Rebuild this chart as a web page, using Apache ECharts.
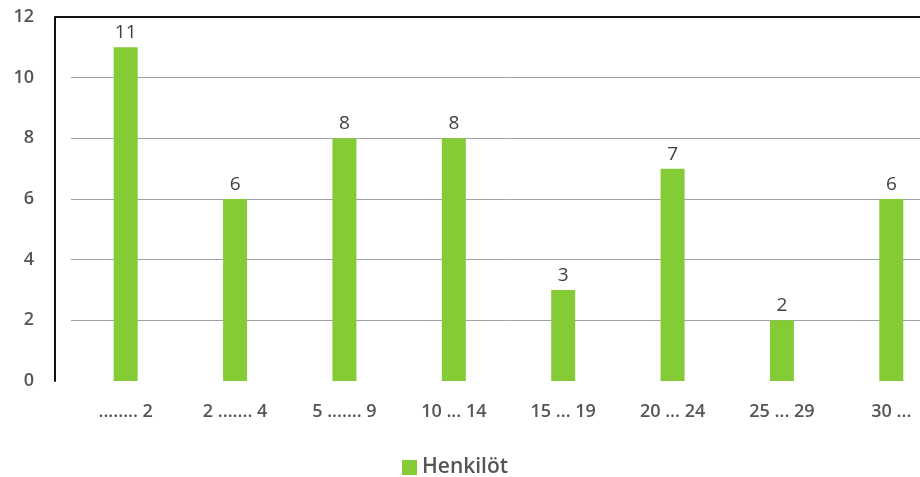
<!DOCTYPE html>
<html>
<head>
<meta charset="utf-8">
<script src="https://cdn.jsdelivr.net/npm/echarts@6/dist/echarts.min.js"></script>
<style>
  html, body { margin: 0; padding: 0; background: #fff; overflow: hidden; }
  #wrap { width: 920px; height: 477px; overflow: hidden; }
  /* the plot area continues a little past the right edge of the view */
  #chart { width: 946px; height: 477px; }
</style>
</head>
<body>
<div id="wrap"><div id="chart"></div></div>
<script>
// Age groups (years) and number of persons in each
const categories = ['........ 2', '2 ....... 4', '5 ....... 9', '10 ... 14', '15 ... 19', '20 ... 24', '25 ... 29', '30 ...'];
const persons = [11, 6, 8, 8, 3, 7, 2, 6];
const seriesName = 'Henkilöt';
const yTicks = [0, 2, 4, 6, 8, 10, 12];

const font = '"Open Sans", "Noto Sans", sans-serif';
const green = '#84cb35';

const chart = echarts.init(document.getElementById('chart'));
chart.setOption({
  animation: false,
  legend: {
    top: 452,
    left: 397,
    itemWidth: 15,
    itemHeight: 15,
    itemGap: 8,
    icon: 'rect',
    textStyle: { fontFamily: font, fontSize: 21, fontWeight: 600, color: '#555' },
    data: [seriesName]
  },
  grid: { left: 71, top: 17, right: 0, bottom: 96, containLabel: false },
  xAxis: {
    type: 'category',
    data: categories,
    axisLine: { show: false },
    axisTick: { show: false },
    axisLabel: { margin: 22, fontFamily: font, fontSize: 18, fontWeight: 600, color: '#555' }
  },
  yAxis: {
    type: 'value',
    min: yTicks[0],
    max: yTicks[yTicks.length - 1],
    interval: 2,
    offset: 16,
    axisLine: { show: true, lineStyle: { color: '#111', width: 2 } },
    axisTick: { show: false },
    axisLabel: { margin: 21, fontFamily: font, fontSize: 18, fontWeight: 600, color: '#555' },
    splitLine: { showMinLine: false, lineStyle: { color: '#a0a0ac', width: 1 } }
  },
  series: [{
    name: seriesName,
    type: 'bar',
    data: persons,
    barWidth: 24,
    itemStyle: { color: green },
    label: {
      show: true,
      position: 'top',
      distance: 5,
      fontFamily: font,
      fontSize: 19,
      color: '#404040'
    }
  }]
});

// Dark frame line along the top of the plot area, from the value axis to the right edge
const yTop = chart.convertToPixel({ yAxisIndex: 0 }, yTicks[yTicks.length - 1]);
const axisX = 71 - 16;
chart.setOption({
  graphic: [{
    type: 'line',
    shape: { x1: axisX, y1: yTop, x2: 946, y2: yTop },
    style: { stroke: '#111', lineWidth: 2 },
    z: 10
  }]
});
</script>
</body>
</html>
